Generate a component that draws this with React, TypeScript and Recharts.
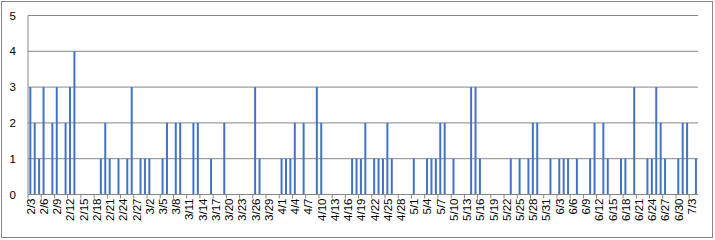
import { BarChart, Bar, XAxis, YAxis, CartesianGrid } from "recharts";

// daily categories 2/3 .. 7/4
const monthDays = [0, 31, 28, 31, 30, 31, 30, 31];
const dates: string[] = [];
{
  let m = 2;
  let d = 3;
  for (let i = 0; i < 152; i++) {
    dates.push(`${m}/${d}`);
    d++;
    if (d > monthDays[m]) {
      m++;
      d = 1;
    }
  }
}

const counts = [
  3, 2, 1, 3, 0, 2, 3, 0, 2, 3,
  4, 0, 0, 0, 0, 0, 1, 2, 1, 0,
  1, 0, 1, 3, 0, 1, 1, 1, 0, 0,
  1, 2, 0, 2, 2, 0, 0, 2, 2, 0,
  0, 1, 0, 0, 2, 0, 0, 0, 0, 0,
  0, 3, 1, 0, 0, 0, 0, 1, 1, 1,
  2, 0, 2, 0, 0, 3, 2, 0, 0, 0,
  0, 0, 0, 1, 1, 1, 2, 0, 1, 1,
  1, 2, 1, 0, 0, 0, 0, 1, 0, 0,
  1, 1, 1, 2, 2, 0, 1, 0, 0, 0,
  3, 3, 1, 0, 0, 0, 0, 0, 0, 1,
  0, 1, 0, 1, 2, 2, 0, 0, 1, 0,
  1, 1, 1, 0, 1, 0, 0, 1, 2, 0,
  2, 1, 0, 0, 1, 1, 0, 3, 0, 0,
  1, 1, 3, 2, 1, 0, 0, 1, 2, 2,
  0, 1,
];

const yTicks = [0, 1, 2, 3, 4, 5];

const data = dates.map((day, i) => ({ day, count: counts[i] }));

const W = 715;
const H = 240;
const MARGIN = { top: 15.5, right: 17, bottom: 0, left: 8 };
const Y_W = 20;
const BAND = (W - MARGIN.left - Y_W - MARGIN.right) / dates.length;
const LINE = "#868686";
const FONT = "'Liberation Sans', Arial, sans-serif";

function DateTick({ x, y, payload }: any) {
  const bx = x - BAND / 2;
  const tx = x + 0.5;
  return (
    <g>
      <line x1={bx} y1={y} x2={bx} y2={y + 4} stroke={LINE} />
      <text
        x={tx}
        y={y}
        transform={`rotate(-90, ${tx}, ${y})`}
        textAnchor="end"
        dx={-4}
        dy="0.35em"
        fontSize={11.5}
        fontFamily={FONT}
        fill="#000"
      >
        {payload.value}
      </text>
    </g>
  );
}

export default function App() {
  return (
    <div
      style={{
        position: "absolute",
        left: 0,
        top: 0,
        width: W,
        height: H,
        background: "#fff",
        fontFamily: FONT,
      }}
    >
      <div
        style={{
          position: "absolute",
          left: 1,
          top: 1,
          width: 712,
          height: 237,
          border: `1px solid ${LINE}`,
          boxSizing: "border-box",
        }}
      />
      <div style={{ position: "absolute", left: 0, top: 0 }}>
        <BarChart
          width={W}
          height={H}
          data={data}
          margin={MARGIN}
          barCategoryGap="30%"
        >
          <CartesianGrid vertical={false} stroke={LINE} />
          <XAxis
            dataKey="day"
            interval={2}
            height={H - MARGIN.top - 179}
            stroke={LINE}
            tickLine={false}
            tickSize={0}
            tickMargin={0}
            tick={<DateTick />}
          />
          <YAxis
            width={Y_W}
            domain={[0, 5]}
            ticks={yTicks}
            stroke={LINE}
            tickLine={false}
            tickSize={0}
            tickMargin={12}
            tick={{ fontSize: 11.5, fill: "#000", fontFamily: FONT }}
          />
          <Bar dataKey="count" fill="#4472C4" isAnimationActive={false} />
        </BarChart>
      </div>
    </div>
  );
}
